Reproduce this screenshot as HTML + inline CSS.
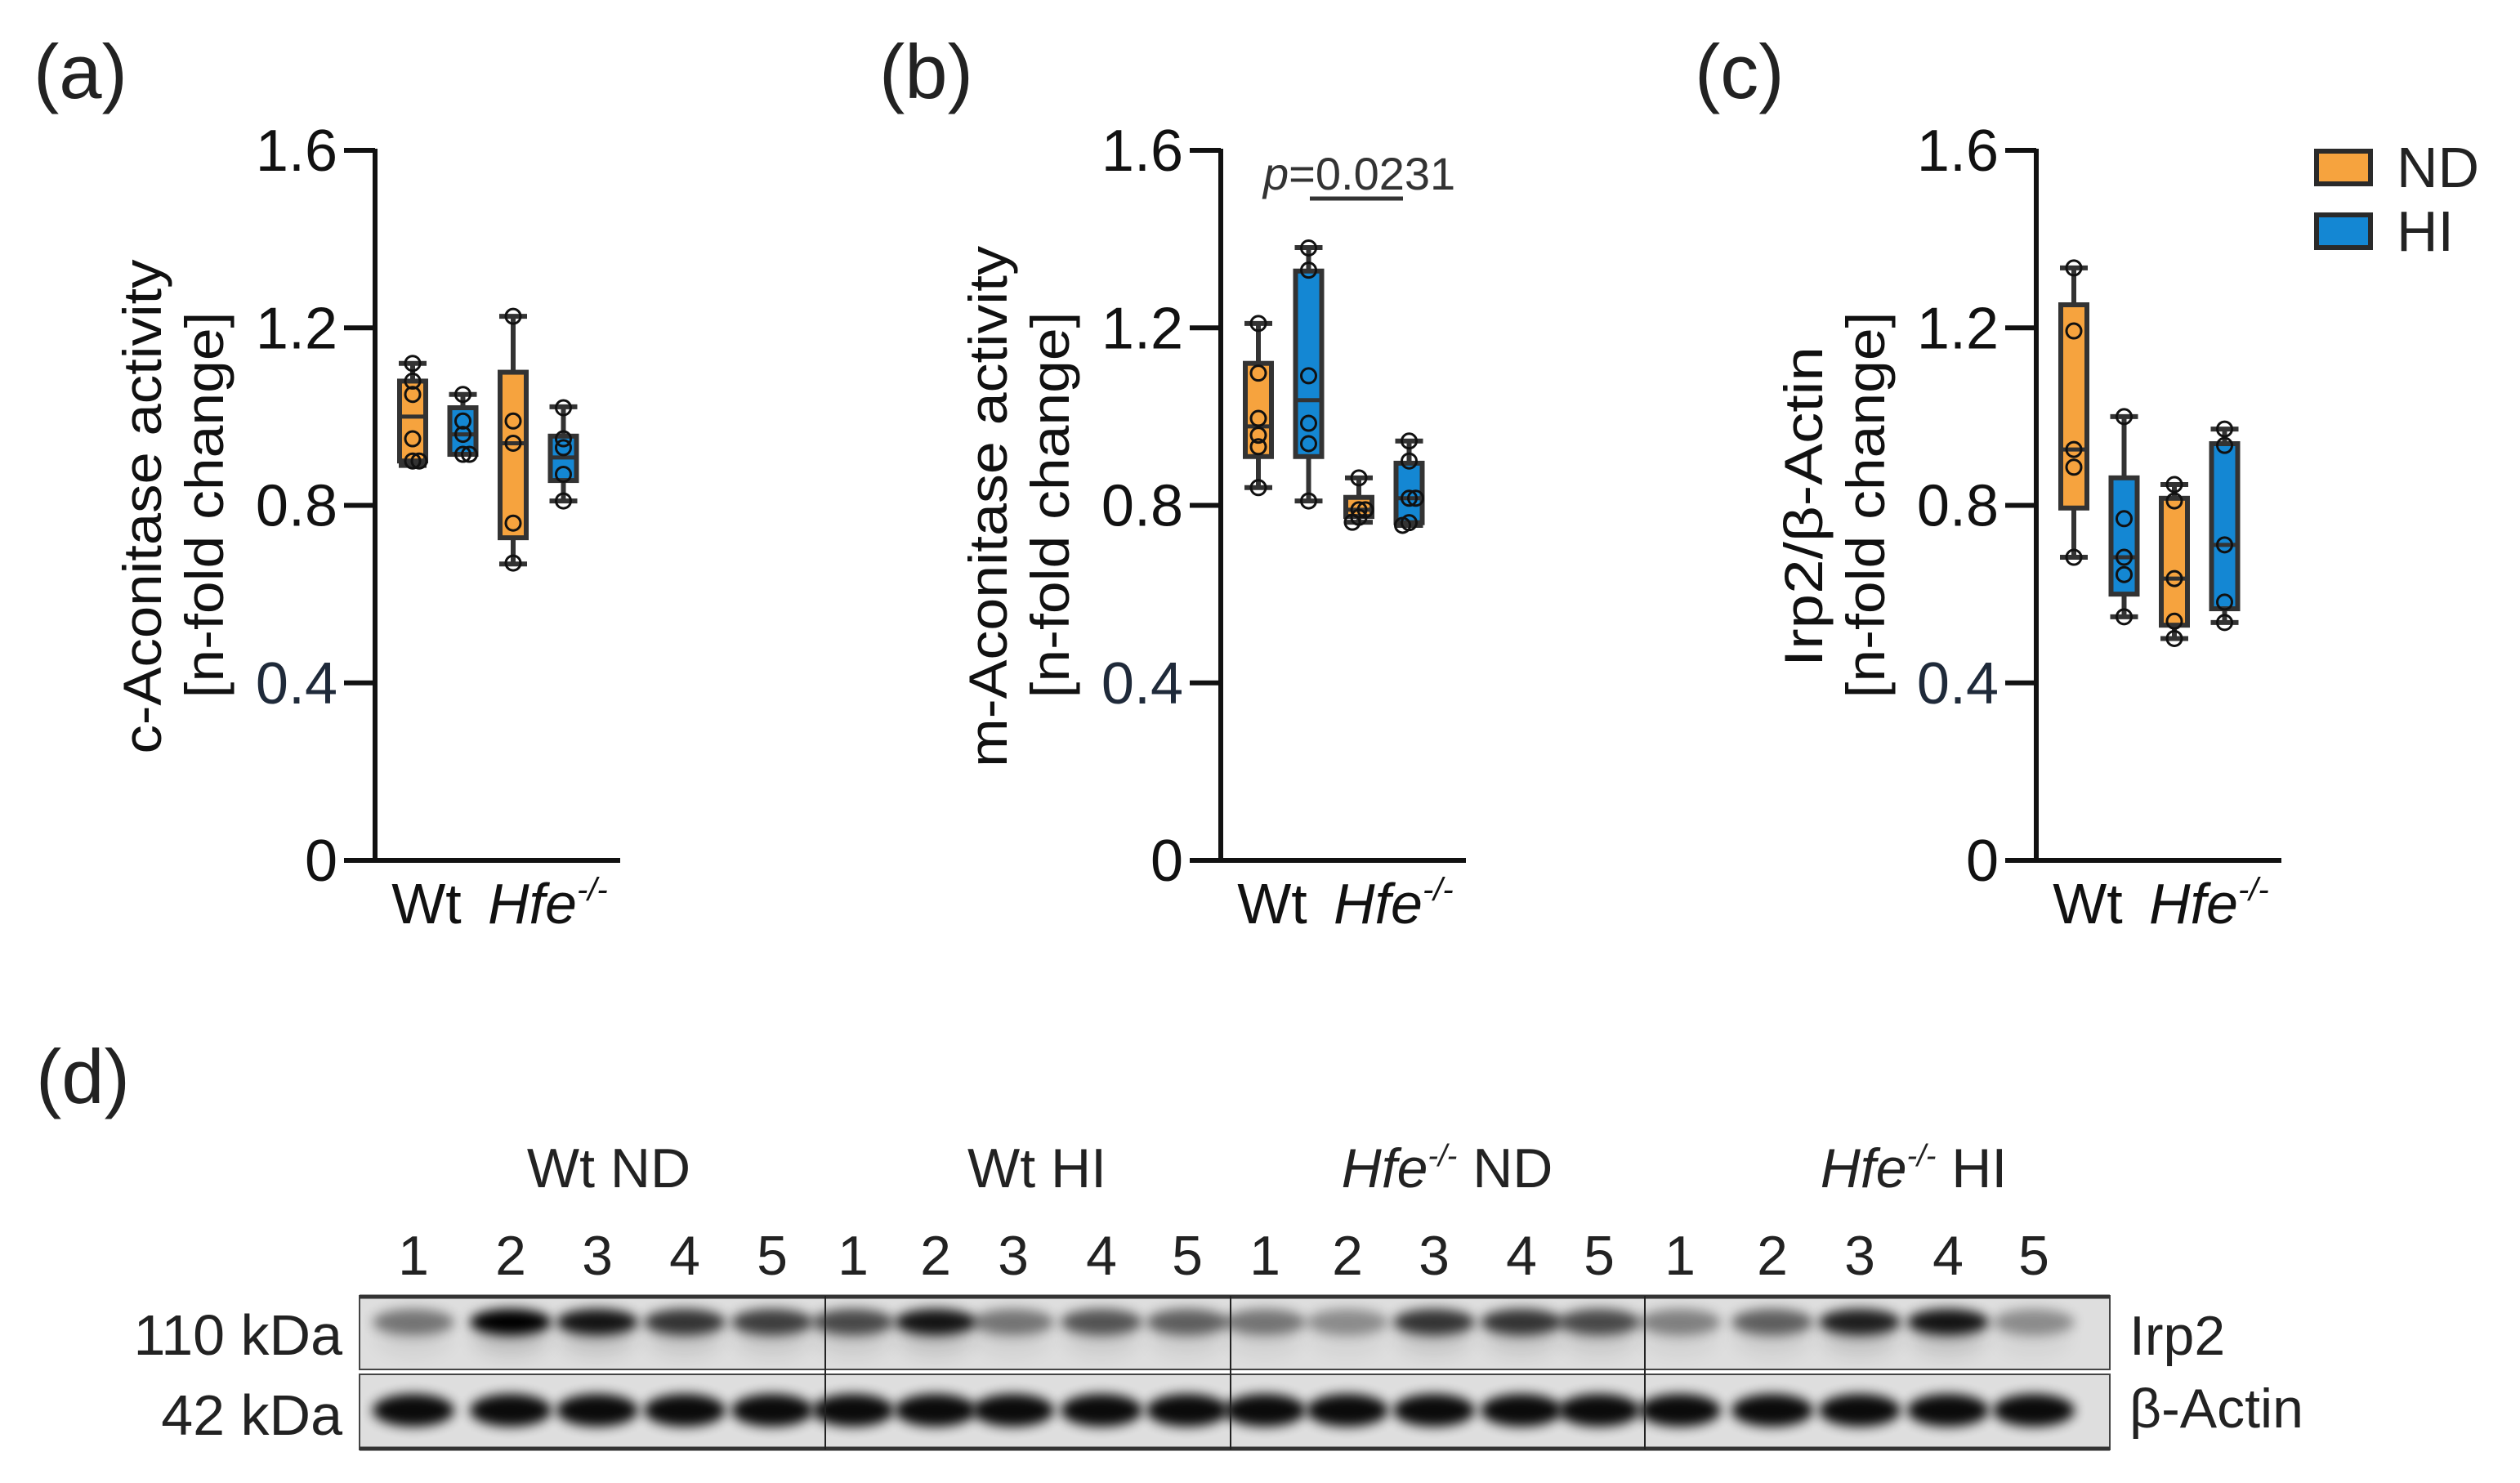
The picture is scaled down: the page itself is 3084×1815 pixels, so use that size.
<!DOCTYPE html>
<html>
<head>
<meta charset="utf-8">
<style>
html,body{margin:0;padding:0;background:#fff;}
svg{display:block;font-family:"Liberation Sans",Arial,sans-serif;}
</style>
</head>
<body>
<svg id="fig" width="3084" height="1815" viewBox="0 0 3084 1815" xmlns="http://www.w3.org/2000/svg">
<defs>
  <filter id="blur" x="-50%" y="-100%" width="200%" height="300%"><feGaussianBlur stdDeviation="7"/></filter>
  <filter id="blur2" x="-50%" y="-100%" width="200%" height="300%"><feGaussianBlur stdDeviation="12"/></filter>
</defs>
<g id="charts"></g>
<g id="blot"></g>
</svg>
<script>
// ---- Chart data ----
const groups = ["Wt ND", "Wt HI", "Hfe ND", "Hfe HI"];
const yTicks = [0, 0.4, 0.8, 1.2, 1.6];
const yTickLabels = ["0", "0.4", "0.8", "1.2", "1.6"];
const xLabels = ["Wt", "Hfe"];

const aMin = [0.89, 0.915, 0.668, 0.81];
const aQ1  = [0.90, 0.915, 0.727, 0.856];
const aMed = [1.00, 0.96, 0.94, 0.908];
const aQ3  = [1.08, 1.02, 1.10, 0.956];
const aMax = [1.12, 1.05, 1.226, 1.022];
const aPts = [[1.12,1.08,1.05,0.95,0.90,0.90],[1.05,0.99,0.96,0.915,0.915],[1.226,0.99,0.94,0.76,0.67],[1.02,0.95,0.93,0.87,0.81]];

const bMin = [0.84, 0.81, 0.762, 0.755];
const bQ1  = [0.91, 0.91, 0.775, 0.761];
const bMed = [0.978, 1.037, 0.79, 0.816];
const bQ3  = [1.12, 1.328, 0.818, 0.895];
const bMax = [1.21, 1.381, 0.862, 0.945];
const bPts = [[1.21,1.098,0.996,0.958,0.932,0.84],[1.38,1.33,1.092,0.985,0.939,0.81],[0.862,0.79,0.79,0.773,0.762],[0.945,0.90,0.816,0.816,0.761,0.755]];

const cMin = [0.683, 0.549, 0.50, 0.536];
const cQ1  = [0.794, 0.60, 0.53, 0.567];
const cMed = [0.926, 0.683, 0.635, 0.711];
const cQ3  = [1.252, 0.862, 0.816, 0.939];
const cMax = [1.335, 1.0, 0.847, 0.972];
const cPts = [[1.335,1.193,0.926,0.886,0.683],[1.0,0.77,0.683,0.644,0.549],[0.847,0.81,0.635,0.539,0.5],[0.972,0.935,0.711,0.582,0.536]];

const pValueText = "0.0231";

// Blot band intensities (0..1)
const laneNums = ["1","2","3","4","5"];
const blotGroups = ["Wt ND","Wt HI","Hfe ND","Hfe HI"];
const irp2 = [0.45,1.0,0.9,0.75,0.7, 0.65,0.9,0.45,0.6,0.55, 0.45,0.35,0.75,0.75,0.65, 0.4,0.55,0.85,0.9,0.35];
const actin = [0.95,0.95,0.95,0.95,0.95, 0.95,0.95,0.95,0.95,0.95, 0.95,0.95,0.95,0.95,0.95, 0.95,0.95,0.95,0.95,0.95];

// ---- rendering ----
const NS = "http://www.w3.org/2000/svg";
const ORANGE = "#F6A33E", BLUE = "#1487D3", STROKE = "#333";
const fills = [ORANGE, BLUE, ORANGE, BLUE];
function mk(tag, attrs, parent, text) {
  const e = document.createElementNS(NS, tag);
  for (const k in attrs) e.setAttribute(k, attrs[k]);
  if (text !== undefined) e.textContent = text;
  parent.appendChild(e);
  return e;
}
const Y0 = 1053, Y16 = 184;
function yS(v) { return Y0 - v * (Y0 - Y16) / 1.6; }
const charts = document.getElementById("charts");

function panel(id, axisX, letter, title1, len1, title2, stats) {
  const g = mk("g", {}, charts);
  
  
  const pl = mk("text", {x: axisX - 418, y: 120, "font-size": 94, fill: "#222"}, g, "(" + letter + ")");
  
  
  const ya = mk("line", {x1: axisX, y1: Y16 - 2, x2: axisX, y2: Y0 + 3, stroke: "#111", "stroke-width": 6}, g);
  
  
  const xa = mk("line", {x1: axisX - 3, y1: Y0, x2: axisX + 300, y2: Y0, stroke: "#111", "stroke-width": 6}, g);
  
  
  yTicks.forEach((t, i) => {
    const tk = mk("line", {x1: axisX - 38, y1: yS(t), x2: axisX, y2: yS(t), stroke: "#111", "stroke-width": 6}, g);
    
    
    const tl = mk("text", {x: axisX - 46, y: yS(t) + 25, "font-size": 72, "text-anchor": "end", fill: i === 1 ? "#1f2a3a" : "#111"}, g, yTickLabels[i]);
    
    
  });
  const t1 = mk("text", {x: 0, y: 0, "font-size": 66, "text-anchor": "middle", fill: "#111", textLength: len1, lengthAdjust: "spacingAndGlyphs", transform: `translate(${axisX - 262},620) rotate(-90)`}, g, title1);
  
  
  const t2 = mk("text", {x: 0, y: 0, "font-size": 66, "text-anchor": "middle", fill: "#111", textLength: 473, lengthAdjust: "spacingAndGlyphs", transform: `translate(${axisX - 186},618) rotate(-90)`}, g, title2);
  
  
  const xl1 = mk("text", {x: axisX + 63, y: 1130, "font-size": 70, "text-anchor": "middle", fill: "#111"}, g, xLabels[0]);
  
  
  const xl2 = mk("text", {x: axisX + 138, y: 1130, "font-size": 70, fill: "#111"}, g);
  
  
  mk("tspan", {"font-style": "italic"}, xl2, xLabels[1]);
  mk("tspan", {"font-style": "italic", "font-size": 40, dy: -28}, xl2, "-/-");
  const [mins, q1s, meds, q3s, maxs, pts] = stats;
  const hw = 17;
  groups.forEach((grp, i) => {
    const cx = axisX + 46 + i * 61.5;
    const bg = mk("g", {}, g);
    
    
    mk("line", {x1: cx, y1: yS(maxs[i]), x2: cx, y2: yS(mins[i]), stroke: STROKE, "stroke-width": 6}, bg);
    mk("line", {x1: cx - hw, y1: yS(maxs[i]), x2: cx + hw, y2: yS(maxs[i]), stroke: STROKE, "stroke-width": 6}, bg);
    mk("line", {x1: cx - hw, y1: yS(mins[i]), x2: cx + hw, y2: yS(mins[i]), stroke: STROKE, "stroke-width": 6}, bg);
    mk("rect", {x: cx - hw + 1, y: yS(q3s[i]), width: 2 * hw - 2, height: Math.max(yS(q1s[i]) - yS(q3s[i]), 1), fill: fills[i], stroke: STROKE, "stroke-width": 6}, bg);
    mk("line", {x1: cx - hw + 1, y1: yS(meds[i]), x2: cx + hw - 1, y2: yS(meds[i]), stroke: STROKE, "stroke-width": 5}, bg);
    let prev = null, side = 1;
    pts[i].forEach((v) => {
      let dx = 0;
      if (prev !== null && Math.abs(prev - v) < 0.015) { dx = 8 * side; side = -side; }
      const c = mk("circle", {cx: cx + dx, cy: yS(v), r: 9, fill: "none", stroke: "#111", "stroke-width": 3}, bg);
      
      
      prev = v;
    });
  });
  return g;
}

panel("a", 459, "a", "c-Aconitase activity", 605, "[n-fold change]", [aMin, aQ1, aMed, aQ3, aMax, aPts]);
const gb = panel("b", 1494, "b", "m-Aconitase activity", 638, "[n-fold change]", [bMin, bQ1, bMed, bQ3, bMax, bPts]);
panel("c", 2492, "c", "Irp2/\u03B2-Actin", 392, "[n-fold change]", [cMin, cQ1, cMed, cQ3, cMax, cPts]);

const pv = mk("text", {x: 1546, y: 232, "font-size": 56, fill: "#333"}, gb);


mk("tspan", {"font-style": "italic"}, pv, "p");
mk("tspan", {}, pv, "=" + pValueText);
const pl = mk("line", {x1: 1603, y1: 243, x2: 1717, y2: 243, stroke: "#333", "stroke-width": 5}, gb);



const lg = mk("g", {}, charts);


[["ND", ORANGE, 182], ["HI", BLUE, 260]].forEach(([lab, col, y]) => {
  const e = mk("g", {}, lg);
  
  
  mk("rect", {x: 2835, y: y + 3, width: 66, height: 40, fill: col, stroke: "#2a2a2a", "stroke-width": 6}, e);
  mk("text", {x: 2933, y: y + 47, "font-size": 70, fill: "#222"}, e, lab);
});

// ---- Western blot ----
const blot = document.getElementById("blot");
const dl = mk("text", {x: 44, y: 1350, "font-size": 94, fill: "#222"}, blot, "(d)");


const laneX = [506,625,731,838,945,1044,1145,1240,1348,1453,1548,1649,1755,1862,1957,2056,2169,2276,2384,2489];
const groupX = [745, 1269, 1771, 2342];
blotGroups.forEach((gname, gi) => {
  const t = mk("text", {x: groupX[gi], y: 1453, "font-size": 68, "text-anchor": "middle", fill: "#222"}, blot);
  
  
  if (gname.startsWith("Hfe")) {
    mk("tspan", {"font-style": "italic"}, t, "Hfe");
    mk("tspan", {"font-style": "italic", "font-size": 38, dy: -26}, t, "-/-");
    mk("tspan", {dy: 26}, t, " " + gname.split(" ")[1]);
  } else {
    t.textContent = gname;
  }
});
laneX.forEach((x, i) => {
  const t = mk("text", {x: x, y: 1560, "font-size": 68, "text-anchor": "middle", fill: "#222"}, blot, laneNums[i % 5]);
  
  
});
const strips = [[1586, 1676, irp2, 1618, 16], [1682, 1774, actin, 1726, 20]];
strips.forEach(([y1, y2, vals, bandY, bh], si) => {
  const s = mk("g", {}, blot);
  
  
  mk("rect", {x: 440, y: y1, width: 2142, height: y2 - y1, fill: "#dedede"}, s);
  vals.forEach((v, i) => {
    if (si === 0) {
      mk("ellipse", {cx: laneX[i], cy: bandY + 18, rx: 46, ry: 22, fill: "#000", opacity: v * 0.15, filter: "url(#blur2)"}, s);
    }
    const b = mk("ellipse", {cx: laneX[i], cy: bandY, rx: 50, ry: bh, fill: "#000", opacity: v, filter: "url(#blur)"}, s);
    
    
  });
  mk("rect", {x: 440, y: y1, width: 2142, height: y2 - y1, fill: "none", stroke: "#444", "stroke-width": 2}, s);
});
mk("line", {x1: 440, y1: 1587, x2: 2582, y2: 1587, stroke: "#333", "stroke-width": 5}, blot);
mk("line", {x1: 440, y1: 1773, x2: 2582, y2: 1773, stroke: "#333", "stroke-width": 5}, blot);
[1010, 1506, 2013].forEach(x => {
  mk("line", {x1: x, y1: 1586, x2: x, y2: 1774, stroke: "#222", "stroke-width": 2}, blot);
});
[["110 kDa", 1658], ["42 kDa", 1756]].forEach(([t, y]) => {
  const e = mk("text", {x: 419, y: y, "font-size": 70, "text-anchor": "end", fill: "#222"}, blot, t);
  
  
});
[["Irp2", 1658], ["\u03B2-Actin", 1747]].forEach(([t, y]) => {
  const e = mk("text", {x: 2606, y: y, "font-size": 68, fill: "#222"}, blot, t);
  
  
});
</script>
</body>
</html>
